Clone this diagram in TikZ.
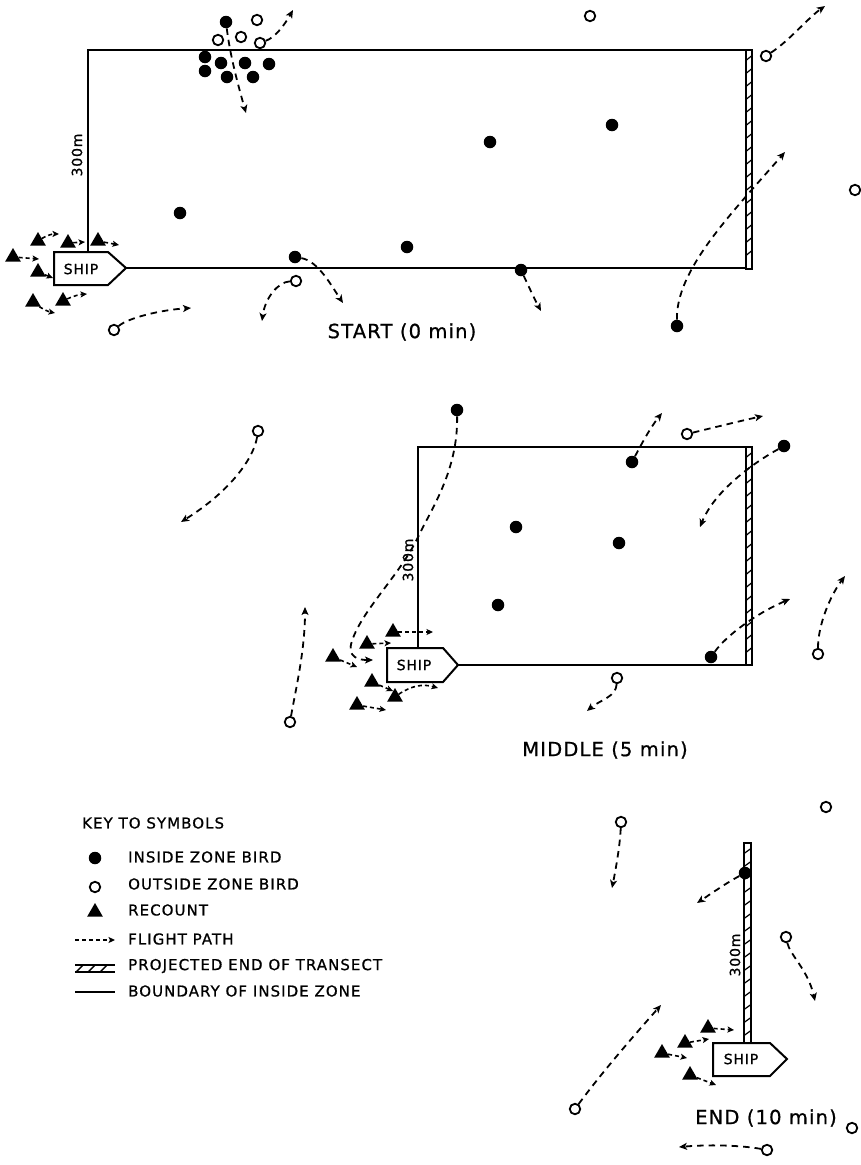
\documentclass[tikz,border=0pt]{standalone}
\usepackage{fontspec}
\setmainfont{DejaVu Sans}[LetterSpace=6,FakeBold=0.8]
\usetikzlibrary{arrows.meta,shapes.geometric}
\begin{document}
\begin{tikzpicture}[x=1pt,y=-1pt,
  indot/.style={circle, fill=black, inner sep=0pt, minimum size=12.5pt},
  outdot/.style={circle, draw=black, line width=1.8pt, fill=white, inner sep=0pt, minimum size=10.5pt},
  recount/.style={regular polygon, regular polygon sides=3, fill=black, inner sep=0pt, minimum size=18pt},
  flight/.style={line width=1.8pt, dash pattern=on 6.5pt off 5pt, -{Stealth[length=8pt,width=7pt,inset=2pt]}},
  shortflight/.style={line width=1.6pt, dash pattern=on 4pt off 3pt, -{Stealth[length=6.5pt,width=6pt,inset=1.5pt]}},
  zone/.style={line width=2pt},
  stripline/.style={line width=1.6pt},
  shiptext/.style={font=\fontsize{14}{16}\selectfont, inner sep=0pt},
  lenlabel/.style={font=\fontsize{14}{16}\selectfont, inner sep=0pt, rotate=90},
  panellabel/.style={font=\fontsize{19.5}{22}\selectfont, inner sep=0pt},
  keytext/.style={font=\fontsize{15}{17}\selectfont\addfontfeature{LetterSpace=7}, inner sep=0pt, anchor=west}
]
\useasboundingbox (0,0) rectangle (861,1165);
\fill[white] (0,0) rectangle (861,1165);

%================ START =================
\draw[zone] (88,252) -- (88,50) -- (746,50);
\draw[zone] (126,268) -- (746,268);
\draw[stripline] (746,50) rectangle (752,269);
\foreach \yy in {58,71,...,262} {\draw[line width=1.2pt] (746,\yy+2.5) -- (752,\yy-2.5);}
\draw[zone, fill=white] (54,252) -- (108,252) -- (126,268) -- (108,285) -- (54,285) -- cycle;
\node[shiptext] (ship1) at (81,269) {SHIP};
\node[lenlabel] (len1) at (77,155) {300m};
\node[panellabel] (lab1) at (402,332) {START (0 min)};

% cluster
\node[indot] (s1) at (226,22) {};
\node[outdot] (s2) at (257,20) {};
\node[outdot] (s3) at (218,40) {};
\node[outdot] (s4) at (241,37) {};
\node[outdot] (s5) at (260,43) {};
\node[indot] (s6) at (205,57) {};
\node[indot] (s7) at (221,63) {};
\node[indot] (s8) at (245,63) {};
\node[indot] (s9) at (269,64) {};
\node[indot] (s10) at (205,71) {};
\node[indot] (s11) at (227,77) {};
\node[indot] (s12) at (253,77) {};
\coordinate (a1) at (293,10);
\coordinate (a2) at (246,113);
\draw[flight] (s5) .. controls (276,37) and (285,24) .. (a1);
\draw[flight] (s1) .. controls (230,55) and (238,85) .. (a2);

\node[indot] (s13) at (180,213) {};
\node[indot] (s14) at (295,257) {};
\node[outdot] (s15) at (296,281) {};
\node[indot] (s16) at (407,247) {};
\node[indot] (s17) at (490,142) {};
\node[indot] (s18) at (521,270) {};
\node[indot] (s19) at (612,125) {};
\node[outdot] (s20) at (590,16) {};
\node[outdot] (s21) at (766,56) {};
\node[outdot] (s22) at (855,190) {};
\node[indot] (s23) at (677,326) {};
\node[outdot] (s24) at (114,330) {};
\coordinate (a3) at (343,303);
\coordinate (a4) at (262,321);
\coordinate (a5) at (541,311);
\coordinate (a6) at (825,6);
\coordinate (a7) at (785,152);
\coordinate (a8) at (191,308);
\draw[flight] (s14) .. controls (318,261) and (331,285) .. (a3);
\draw[flight] (s15) .. controls (278,282) and (265,298) .. (a4);
\draw[flight] (s18) .. controls (528,285) and (534,298) .. (a5);
\draw[flight] (s21) .. controls (790,40) and (808,18) .. (a6);
\draw[flight] (s23) .. controls (676,270) and (730,215) .. (a7);
\draw[flight] (s24) .. controls (128,318) and (160,310) .. (a8);

% recounts
\node[recount] (st1) at (38,241) {};
\node[recount] (st2) at (68,243) {};
\node[recount] (st3) at (98,241) {};
\node[recount] (st4) at (13,257) {};
\node[recount] (st5) at (38,272) {};
\node[recount] (st6) at (33,302) {};
\node[recount] (st7) at (63,301) {};
\coordinate (b1) at (59,234);
\coordinate (b2) at (85,242);
\coordinate (b3) at (119,245);
\coordinate (b4) at (39,259);
\coordinate (b5) at (53,278);
\coordinate (b6) at (55,313);
\coordinate (b7) at (87,294);
\draw[shortflight] (st1) to[bend left=15] (b1);
\draw[shortflight] (st2) -- (b2);
\draw[shortflight] (st3) -- (b3);
\draw[shortflight] (st4) -- (b4);
\draw[shortflight] (st5) -- (b5);
\draw[shortflight] (st6) to[bend right=10] (b6);
\draw[shortflight] (st7) to[bend left=10] (b7);

%================ MIDDLE =================
\draw[zone] (418,648) -- (418,447) -- (746,447);
\draw[zone] (458,665) -- (746,665);
\draw[stripline] (746,447) rectangle (752,665);
\foreach \yy in {455,468,...,660} {\draw[line width=1.2pt] (746,\yy+2.5) -- (752,\yy-2.5);}
\draw[zone, fill=white] (387,648) -- (443,648) -- (458,665) -- (443,682) -- (387,682) -- cycle;
\node[shiptext] (ship2) at (414,665) {SHIP};
\node[lenlabel] (len2) at (408,560) {300m};
\node[panellabel] (lab2) at (605,750) {MIDDLE (5 min)};

\node[indot] (m1) at (457,410) {};
\node[outdot] (m2) at (258,431) {};
\node[outdot] (m3) at (290,722) {};
\node[indot] (m4) at (516,527) {};
\node[indot] (m5) at (498,605) {};
\node[indot] (m6) at (619,543) {};
\node[indot] (m7) at (632,462) {};
\node[outdot] (m8) at (687,434) {};
\node[indot] (m9) at (784,446) {};
\node[indot] (m10) at (711,657) {};
\node[outdot] (m11) at (818,654) {};
\node[outdot] (m12) at (617,678) {};
\coordinate (c1) at (373,660);
\coordinate (c1a) at (418,537);
\coordinate (c1b) at (352,641);
\coordinate (c2) at (181,522);
\coordinate (c3) at (305,607);
\coordinate (c4) at (662,413);
\coordinate (c5) at (763,416);
\coordinate (c6) at (700,527);
\coordinate (c7) at (790,599);
\coordinate (c8) at (845,576);
\coordinate (c9) at (587,711);
\draw[flight] (m1) .. controls (458,470) and (432,508) .. (c1a)
   .. controls (400,575) and (362,610) .. (c1b)
   .. controls (346,658) and (360,660) .. (c1);
\draw[flight] (m2) .. controls (254,457) and (232,490) .. (c2);
\draw[flight] (m3) .. controls (296,688) and (305,650) .. (c3);
\draw[flight] (m7) .. controls (641,445) and (650,428) .. (c4);
\draw[flight] (m8) .. controls (712,428) and (740,421) .. (c5);
\draw[flight] (m9) .. controls (755,462) and (715,490) .. (c6);
\draw[flight] (m10) .. controls (726,636) and (755,614) .. (c7);
\draw[flight] (m11) .. controls (818,625) and (830,596) .. (c8);
\draw[flight] (m12) .. controls (616,697) and (600,700) .. (c9);

\node[recount] (mt1) at (393,632) {};
\node[recount] (mt2) at (367,644) {};
\node[recount] (mt3) at (333,657) {};
\node[recount] (mt4) at (372,682) {};
\node[recount] (mt5) at (395,697) {};
\node[recount] (mt6) at (357,705) {};
\coordinate (d1) at (433,632);
\coordinate (d2) at (391,643);
\coordinate (d3) at (357,667);
\coordinate (d4) at (393,691);
\coordinate (d5) at (438,688);
\coordinate (d6) at (386,710);
\draw[shortflight] (mt1) -- (d1);
\draw[shortflight] (mt2) -- (d2);
\draw[shortflight] (mt3) -- (d3);
\draw[shortflight] (mt4) -- (d4);
\draw[shortflight] (mt5) to[bend left=25] (d5);
\draw[shortflight] (mt6) -- (d6);

%================ END =================
\draw[stripline] (744,843) rectangle (751,1043);
\foreach \yy in {851,864,...,1038} {\draw[line width=1.2pt] (744,\yy+2.5) -- (751,\yy-2.5);}
\draw[zone, fill=white] (713,1043) -- (770,1043) -- (787,1059) -- (770,1076) -- (713,1076) -- cycle;
\node[shiptext] (ship3) at (741,1059) {SHIP};
\node[lenlabel] (len3) at (735,955) {300m};
\node[panellabel] (lab3) at (766,1118) {END (10 min)};

\node[indot] (e1) at (745,873) {};
\node[outdot] (e2) at (621,822) {};
\node[outdot] (e3) at (826,807) {};
\node[outdot] (e4) at (786,937) {};
\node[outdot] (e5) at (575,1109) {};
\node[outdot] (e6) at (852,1128) {};
\node[outdot] (e7) at (767,1150) {};
\coordinate (f1) at (697,903);
\coordinate (f2) at (612,888);
\coordinate (f3) at (815,1001);
\coordinate (f4) at (661,1005);
\coordinate (f5) at (679,1147);
\draw[flight] (e1) .. controls (728,882) and (712,893) .. (f1);
\draw[flight] (e2) .. controls (620,845) and (616,868) .. (f2);
\draw[flight] (e4) .. controls (790,955) and (808,970) .. (f3);
\draw[flight] (e5) .. controls (600,1075) and (630,1040) .. (f4);
\draw[flight] (e7) .. controls (745,1146) and (715,1144) .. (f5);

\node[recount] (et1) at (708,1028) {};
\node[recount] (et2) at (685,1043) {};
\node[recount] (et3) at (662,1053) {};
\node[recount] (et4) at (690,1075) {};
\coordinate (g1) at (734,1030);
\coordinate (g2) at (709,1039);
\coordinate (g3) at (687,1058);
\coordinate (g4) at (716,1085);
\draw[shortflight] (et1) -- (g1);
\draw[shortflight] (et2) -- (g2);
\draw[shortflight] (et3) -- (g3);
\draw[shortflight] (et4) -- (g4);

%================ KEY =================
\node[keytext] (k0) at (82,823) {KEY TO SYMBOLS};
\node[indot] (k1s) at (95,858) {};
\node[keytext] (k1) at (128,857) {INSIDE ZONE BIRD};
\node[outdot] (k2s) at (95,887) {};
\node[keytext] (k2) at (128,884) {OUTSIDE ZONE BIRD};
\node[recount] (k3s) at (95,912) {};
\node[keytext] (k3) at (128,910) {RECOUNT};
\coordinate (k4a) at (75,940);
\coordinate (k4b) at (115,940);
\draw[shortflight] (k4a) -- (k4b);
\node[keytext] (k4) at (128,939) {FLIGHT PATH};
\coordinate (k5a) at (75,965);
\coordinate (k5b) at (115,965);
\coordinate (k5c) at (75,972);
\coordinate (k5d) at (115,972);
\draw[line width=1.4pt] (k5a) -- (k5b) (k5c) -- (k5d);
\foreach \xx in {83,95,107} {\draw[line width=1.4pt] (\xx,965) -- (\xx-7,972);}
\node[keytext] (k5) at (128,966) {PROJECTED END OF TRANSECT};
\coordinate (k6a) at (75,992);
\coordinate (k6b) at (115,992);
\draw[line width=1.4pt] (k6a) -- (k6b);
\node[keytext] (k6) at (128,991) {BOUNDARY OF INSIDE ZONE};
\end{tikzpicture}
\end{document}
